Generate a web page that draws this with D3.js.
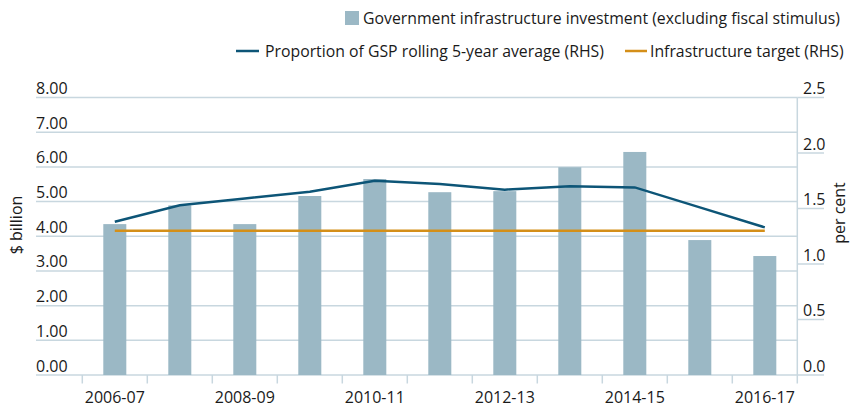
<!DOCTYPE html>
<html>
<head>
<meta charset="utf-8">
<script src="https://cdn.jsdelivr.net/npm/d3@7"></script>
<style>
  body { margin: 0; background: #fff; }
  svg text { font-family: "Open Sans", "Noto Sans", sans-serif; fill: #1a1a1a; }
</style>
</head>
<body>
<svg id="chart" width="853" height="407"></svg>
<script>
// chart data
const categories = ['2006-07', '2007-08', '2008-09', '2009-10', '2010-11', '2011-12',
    '2012-13', '2013-14', '2014-15', '2015-16', '2016-17'];
const investment = [4.35, 4.89, 4.35, 5.16, 5.65, 5.27, 5.30, 5.99, 6.43, 3.89, 3.43];
const gspShare = [1.38, 1.53, 1.59, 1.65, 1.75, 1.72, 1.67, 1.70, 1.69, 1.51, 1.33];
const target = [1.3, 1.3, 1.3, 1.3, 1.3, 1.3, 1.3, 1.3, 1.3, 1.3, 1.3];
const leftTicks = [0, 1, 2, 3, 4, 5, 6, 7, 8];
const rightTicks = [0, 0.5, 1.0, 1.5, 2.0, 2.5];
const xLabels = ['2006-07', '2008-09', '2010-11', '2012-13', '2014-15', '2016-17'];

const svg = d3.select("#chart");

const gridColor = "#c8d7df";
const barColor = "#9bb8c5";
const lineColor = "#0d5577";
const targetColor = "#d48f19";

const x = d3.scaleBand()
    .domain(categories)
    .range([82.3, 797.3])
    .paddingInner(0.646)
    .paddingOuter(0.323);

const yLeft = d3.scaleLinear().domain([0, 8]).range([375, 97.5]);
const yRight = d3.scaleLinear().domain([0, 2.5]).range([375, 97.5]);

const cx = d => x(d) + x.bandwidth() / 2;

// gridlines (extend left under the labels)
svg.append("g").selectAll("line")
    .data(leftTicks)
    .enter().append("line")
    .attr("x1", 36).attr("x2", 797.3)
    .attr("y1", d => yLeft(d)).attr("y2", d => yLeft(d))
    .style("stroke", gridColor)
    .attr("stroke-width", 1.5);

// right axis tick lines
svg.append("g").selectAll("line")
    .data(rightTicks)
    .enter().append("line")
    .attr("x1", 797.3).attr("x2", 824)
    .attr("y1", d => yRight(d)).attr("y2", d => yRight(d))
    .style("stroke", gridColor)
    .attr("stroke-width", 1.5);

// right axis vertical line
svg.append("line")
    .attr("x1", 797.3).attr("x2", 797.3)
    .attr("y1", 97.5).attr("y2", 383.5)
    .style("stroke", gridColor)
    .attr("stroke-width", 1.5);

// x ticks at band boundaries
const step = x.step();
const boundaries = categories.map(d => x(d) - (step - x.bandwidth()) / 2);
svg.append("g").selectAll("line")
    .data(boundaries)
    .enter().append("line")
    .attr("x1", d => d).attr("x2", d => d)
    .attr("y1", 375).attr("y2", 383.5)
    .style("stroke", gridColor)
    .attr("stroke-width", 1.5);

// bars
svg.append("g").selectAll("rect")
    .data(categories)
    .enter().append("rect")
    .attr("x", d => x(d))
    .attr("width", x.bandwidth())
    .attr("y", (d, i) => yLeft(investment[i]))
    .attr("height", (d, i) => yLeft(0) - yLeft(investment[i]))
    .attr("fill", barColor);

// target line
svg.append("path")
    .datum(categories)
    .attr("d", d3.line().x(d => cx(d)).y((d, i) => yRight(target[i])))
    .attr("fill", "none")
    .style("stroke", targetColor)
    .attr("stroke-width", 2.5);

// GSP line
svg.append("path")
    .datum(categories)
    .attr("d", d3.line().x(d => cx(d)).y((d, i) => yRight(gspShare[i])))
    .attr("fill", "none")
    .style("stroke", lineColor)
    .attr("stroke-width", 2.5);

// left labels sit above the gridlines
svg.append("g").selectAll("text")
    .data(leftTicks)
    .enter().append("text")
    .attr("x", 36)
    .attr("y", d => yLeft(d) - 3.5)
    .style("font-size", "16px")
    .text(d => d3.format(".2f")(d));

svg.append("g").selectAll("text")
    .data(rightTicks)
    .enter().append("text")
    .attr("x", 803)
    .attr("y", d => yRight(d) - 3.5)
    .style("font-size", "16px")
    .text(d => d3.format(".1f")(d));

// x labels
svg.append("g").selectAll("text")
    .data(xLabels)
    .enter().append("text")
    .attr("x", d => cx(d))
    .attr("y", 403)
    .attr("text-anchor", "middle")
    .style("font-size", "16px")
    .text(d => d);

// axis titles
svg.append("text")
    .attr("transform", "translate(22,225) rotate(-90)")
    .attr("text-anchor", "middle")
    .style("font-size", "16px")
    .text("$ billion");

svg.append("text")
    .attr("transform", "translate(845,213) rotate(-90)")
    .attr("text-anchor", "middle")
    .style("font-size", "16px")
    .text("per cent");

// legend
const legend = svg.append("g");
legend.append("rect")
    .attr("x", 345).attr("y", 11).attr("width", 14).attr("height", 14)
    .attr("fill", barColor);
legend.append("text")
    .attr("x", 363).attr("y", 24)
    .style("font-size", "15.8px")
    .text("Government infrastructure investment (excluding fiscal stimulus)");

legend.append("line")
    .attr("x1", 236).attr("x2", 259).attr("y1", 51).attr("y2", 51)
    .style("stroke", lineColor).attr("stroke-width", 2.5);
legend.append("text")
    .attr("x", 265).attr("y", 56.5)
    .style("font-size", "15.8px")
    .text("Proportion of GSP rolling 5-year average (RHS)");

legend.append("line")
    .attr("x1", 625).attr("x2", 647).attr("y1", 51).attr("y2", 51)
    .style("stroke", targetColor).attr("stroke-width", 2.5);
legend.append("text")
    .attr("x", 650).attr("y", 56.5)
    .style("font-size", "15.8px")
    .text("Infrastructure target (RHS)");
</script>
</body>
</html>
